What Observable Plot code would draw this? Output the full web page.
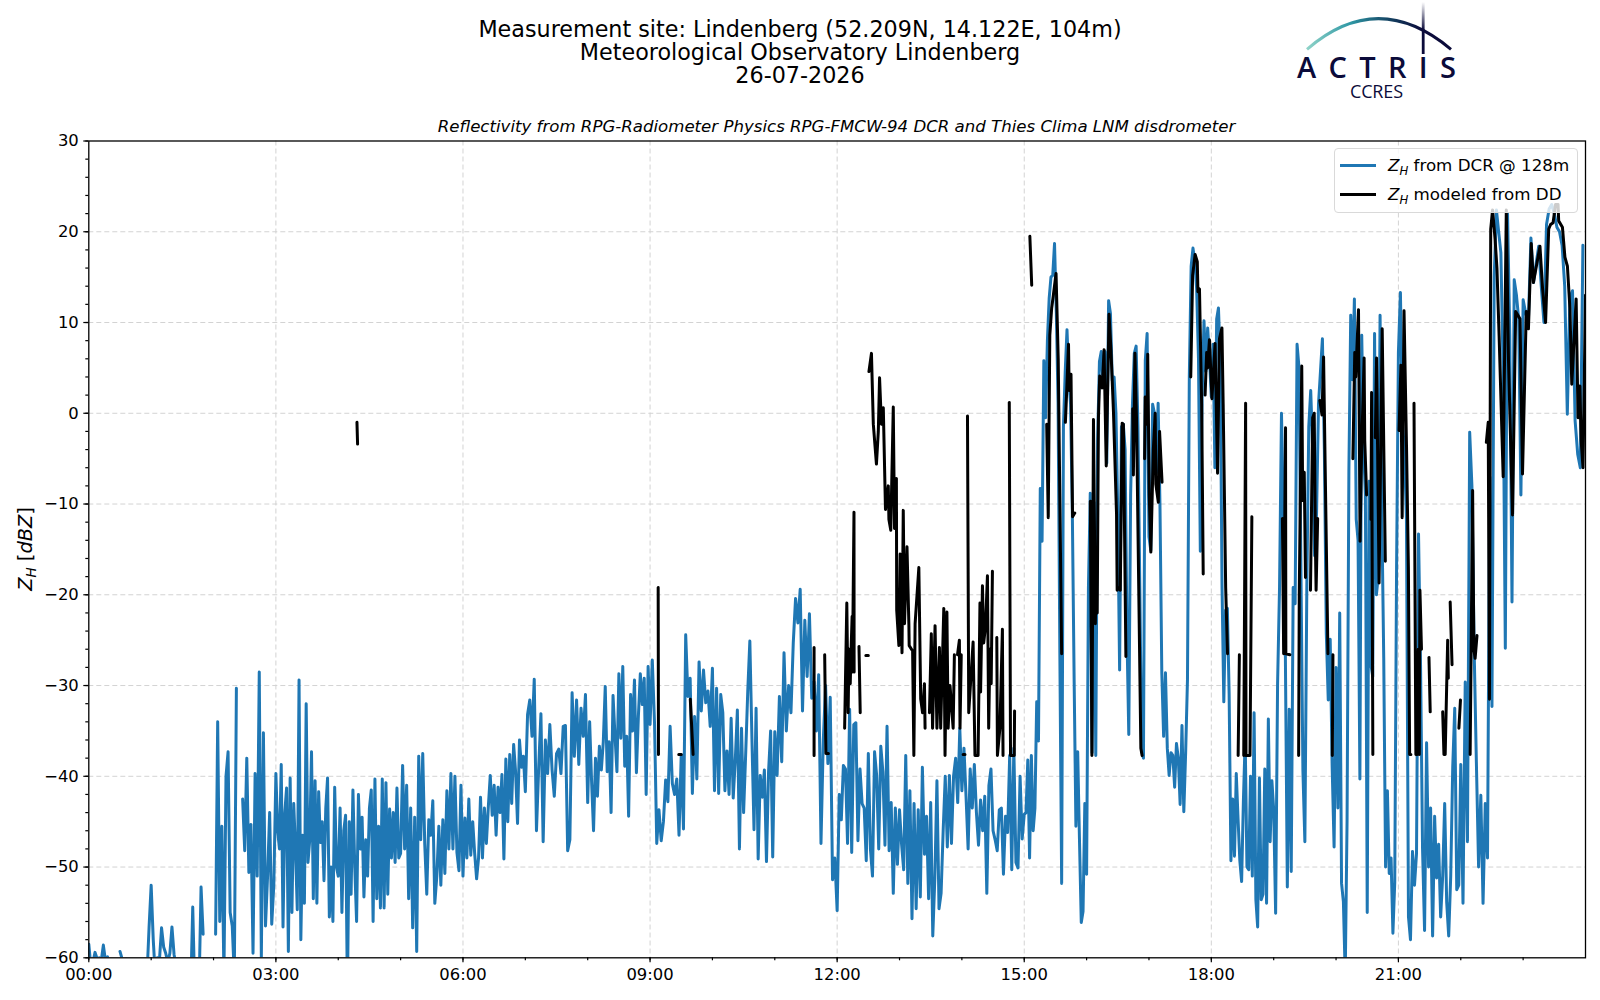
<!DOCTYPE html>
<html>
<head>
<meta charset="utf-8">
<script src="https://cdn.jsdelivr.net/npm/d3@7"></script>
<script src="https://cdn.jsdelivr.net/npm/@observablehq/plot@0.6"></script>
<style>
  html,body{margin:0;padding:0;background:#fff;}
  #page{position:relative;width:1600px;height:1000px;overflow:hidden;font-family:"DejaVu Sans",sans-serif;color:#000;}
  #header{height:135px;position:relative;}
  .t{position:absolute;left:0;width:1600px;text-align:center;font-size:22.25px;line-height:24px;white-space:nowrap;}
  #sub{position:absolute;left:88px;width:1497px;top:116px;text-align:center;font-style:italic;font-size:16.6px;line-height:22px;white-space:nowrap;}
  #ylab{position:absolute;left:24.5px;top:549px;transform:translate(-50%,-50%) rotate(-90deg);font-size:19.4px;white-space:nowrap;}
  #ylab i sub,.lt i sub{font-size:.7em;line-height:0;}
  #legend{position:absolute;left:1334px;top:148px;width:244px;height:65px;box-sizing:border-box;border:1px solid #d9d9d9;border-radius:4px;background:rgba(255,255,255,.8);}
  .ll{position:absolute;left:5px;width:36px;height:3px;}
  .lt{position:absolute;left:53px;font-size:16.7px;white-space:nowrap;line-height:20px;}
  #logo{position:absolute;left:0;top:0;}
  svg{display:block;}
</style>
</head>
<body>
<div id="page">
  <div id="header">
    <div class="t" style="top:17px">Measurement site: Lindenberg (52.209N, 14.122E, 104m)</div>
    <div class="t" style="top:40px">Meteorological Observatory Lindenberg</div>
    <div class="t" style="top:63px">26-07-2026</div>
    <div id="sub">Reflectivity from RPG-Radiometer Physics RPG-FMCW-94 DCR and Thies Clima LNM disdrometer</div>
  </div>
  <div id="chart"></div>
  <div id="ylab"><i>Z<sub>H</sub></i> [<i>dBZ</i>]</div>
  <div id="legend">
    <div class="ll" style="top:15px;background:#1f77b4"></div>
    <div class="lt" style="top:6px"><i>Z<sub>H</sub></i> from DCR @ 128m</div>
    <div class="ll" style="top:44px;background:#000"></div>
    <div class="lt" style="top:35px"><i>Z<sub>H</sub></i> modeled from DD</div>
  </div>
  <svg id="logo" width="1600" height="135" viewBox="0 0 1600 135">
    <defs>
      <linearGradient id="arc" gradientUnits="userSpaceOnUse" x1="1307" y1="0" x2="1451" y2="0">
        <stop offset="0" stop-color="#8fd3c8"/><stop offset=".3" stop-color="#2f98a5"/><stop offset=".6" stop-color="#123a5c"/><stop offset=".8" stop-color="#0b0b3a"/><stop offset="1" stop-color="#0b0b3a"/>
      </linearGradient>
      <linearGradient id="mast" gradientUnits="userSpaceOnUse" x1="0" y1="2" x2="0" y2="30">
        <stop offset="0" stop-color="#0b0b3a" stop-opacity="0"/><stop offset="1" stop-color="#0b0b3a"/>
      </linearGradient>
    </defs>
    <path d="M1307 49.3 Q1378 -12 1451 49.3" fill="none" stroke="url(#arc)" stroke-width="3"/>
    <rect x="1421.8" y="2" width="2.8" height="52" fill="url(#mast)"/>
    <text x="1297" y="78" font-family="Open Sans" font-weight="600" font-size="29" fill="#0b0b3a" textLength="159" lengthAdjust="spacing">ACTRIS</text>
    <text x="1350" y="98" font-family="Open Sans" font-size="18" fill="#0b0b3a" textLength="53">CCRES</text>
  </svg>
</div>
<script>
// Radar reflectivity (dBZ) per hour of day, evenly spread over that hour; null = no data
const dcr00=[-58.5,-61,-60.5,-59.4,-60.1,-60,-60.3,-58.6,-60.3,-59.9,-60.5,-61,null,null,null,-59.3,-60.1,-60.5,-60.1,null,null,null,null,null,null,null,null,null,-62,-56.6];
const dcr01=[-52,-58,-62,-60,-60.2,-56.7,-58.8,-59.5,-60.5,-59.5,-56.6,-59.6,-61,null,null,null,null,null,null,-64,-54.4,-64,null,-64,-52.2,-57.4,null,null,null,null];
const dcr02=[null,-57.4,-34,-56,-45.5,-62,-40,-37.3,-55,-56.5,-62,-30.3,null,null,-42.5,-48.2,-38,-50.6,-45.3,-59.5,-39.7,-51,-28.5,-60,-35.2,-56.5,-51,-44,-56.3,-52];
const dcr03=[-39.7,-46,-48,-38.7,-56.6,-44,-41.3,-59.3,-40.2,-55,-43,-48,-54.7,-29.4,-58,-46.5,-54,-32,-49.5,-47,-37.3,-53.5,-40.5,-54,-41.7,-47.3,-45,-51.5,-43.5,-40.2,-55.5,-50,-56,-41.2,-50];
const dcr04=[-51,-43.5,-55,-46,-44.3,-64,-45,-53,-41.5,-50,-56,-42,-48,-44.5,-53.3,-47,-51,-43.5,-41.5,-56,-40.3,-53.5,-45.5,-54.5,-40.3,-54.5,-40.7,-53,-43.6,-49,-44,-49.5,-41.3,-49];
const dcr05=[-48.5,-38.8,-48,-41,-53.5,-43.5,-56.7,-44.5,-59.3,-37.8,-47,-37.5,-47.5,-53,-44.8,-46.5,-42.7,-54,-51,-45.5,-52,-44.8,-50.7,-41.6,-48,-39.7,-48,-40,-48.4,-50.4,-41];
const dcr06=[-51,-44.6,-49,-42.5,-48.7,-45,-48.5,-51.3,-49,-42.3,-49,-43.5,-47.4,-43.4,-39.9,-44.3,-41,-46.5,-41.2,-44,-39.8,-49.1,-38.1,-45,-37.6,-43,-36.5,-39.5,-45.2,-36,-39,-37.8];
const dcr07=[-41.7,-33.2,-31.6,-35.6,-29.3,-46,-39,-33.1,-47.2,-36,-39.7,-34.3,-39.3,-42.2,-37.5,-37,-39.7,-34.5,-34.4,-48.2,-47,-30.8,-37.8,-31.6,-38.7,-32.5,-35.6,-31];
const dcr08=[-42.9,-34,-40.6,-46,-38,-42.2,-36.7,-39.3,-36.2,-30.1,-39.5,-36.2,-44,-31.1,-35.5,-39.5,-28.7,-35.8,-27.9,-38.9,-35.6,-44.4,-31,-35,-29.4,-39.6,-33.4,-28.7,-32.1,-29.2,-42,-27.9];
const dcr09=[-34.3,-27.2,-34.1,-47.4,-43.7,-47.1,-45,-40.4,-42.8,-34.5,-40.8,-42,-40.3,-46.5,-37.6,-45.8,-24.4,-31.2,-29.2,-41.9,-33.4,-40.3,-27.4,-32.8,-28.3,-31.9,-30.6,-34.5];
const dcr10=[-28.1,-41.6,-30.3,-41.9,-31,-33,-41.6,-37.2,-42,-33.6,-42.4,-38.2,-32.7,-48,-34.7,-44,-37.5,-30.6,-25.1,-35.8,-45.9,-32.5,-49.1,-39.9,-42.3,-39.3,-49.4,-39.5,-35,-48.9];
const dcr11=[-35.1,-39.9,-31.2,-38.4,-26.4,-35,-30,-33,-25.3,-20.4,-23.1,-19.4,-32.8,-22.8,-29,-22.1,-31.4,-29.6,-35,-28.8,-47.4,-36,-30,-38.6,-31.3,-51.4,-49];
const dcr12=[-54.8,-42,-44.8,-38.8,-39.2,-47.4,-32.6,-48.4,-34.3,-34.1,-47.1,-39.2,-43,-43.5,-49.3,-37.5,-48,-51,-37.3,-39.9,-48,-36.7,-39.5,-47.6,-34.5,-48.2,-42.9,-52.9,-43.5,-49.7];
const dcr13=[-43.7,-47.5,-50.3,-37.7,-51.8,-41.6,-55.7,-43,-54.6,-43.7,-53.3,-39,-48.6,-44.4,-53.5,-42.9,-57.6,-51.2,-40.5,-54.6,-52.9,-46,-40,-47.8,-39.9,-47.4,-40,-38,-42.9,-34.7];
const dcr14=[-41.6,-36.9,-42.2,-48,-39.2,-43.5,-38.7,-44,-47.6,-42.6,-46,-42.2,-52.9,-41,-39.2,-46,-47,-48.2,-43.7,-43.5,-50.8,-44.4,-46.2,-37.7,-50.3,-36.9,-49.5,-50.1,-40,-46.9];
const dcr15=[-44.2,-44,-38.2,-49,-37.7,-46,-43.5,-31.8,-36.1,-8.3,-14.1,5.8,-0.5,8,12.7,15,15.2,18.7,11.1,1,-26.8,-51.8,-1.5,4.6,9.2,4,1,-11.1,-29.3,-45.5,-37.3,-47,-56.1,-54.9,-43];
const dcr16=[-50.8,-19.2,-8.8,-37.4,-9.8,-37.7,-3,5.7,6.8,3,6.8,-5.5,12.4,11,3.6,4,0,-11.1,-28.3,-1.5,-1.2,-4,-24.3,-35.4,-9,1,6.6,7.4,-1.5,-19,-37.2,-38,5.8,8.8];
const dcr17=[-13.6,-15.1,1,0,-6.6,1.1,-10.1,-28.6,-35.6,-28.6,-36.9,-39.9,-37.4,-37.7,-41.2,-36.4,-38,-43.1,-34.4,-43.9,-37.4,-29.3,4,16.2,18.2,16.7,13.7,6,-15.2,2,10.2,4.6,9.4,6];
const dcr18=[1.8,7.6,-6,10.4,11.6,6,-19,-31.8,-21.7,-21.5,-31,-49.3,-42.5,-48.8,-39.7,-44.7,-49.3,-51.6,-42.7,-35.9,-50,-50.3,-40,-51,-33,-53.6,-56.6,-40.2,-53.6,-53,-39.2,-54,-33.7,-47.2,-40.5];
const dcr19=[-43.7,-55.1,-29.8,-19.2,0,-11.6,-26.8,-52.2,-32.6,-50.5,-19.2,-21,7.6,5,-17.7,-39.4,-47.2,-19.2,-1.5,2.5,-4,-15.7,-11,1,4.6,8.2,-4,-24.3,-31.6,-24.9,-38.9,-47.8];
const dcr20=[-28,-43.5,-22,-51.8,-53.8,-62,-45,-6.4,10.8,3.7,12.6,-11.7,-14,-40.3,8.6,-3.7,-9,-55,-7.5,-27.7,-29,8.8,-20,-18,10.8,-11.7,-27,-50,-41.6,-50.7,-49,-57.3,-51.7,-17];
const dcr21=[6.7,13.3,-1,-4,-11.7,-55.5,-58,-48.3,-52,-48.5,-13.3,-27.7,-48,-57,-36.3,-50,-43.5,-57.6,-44.4,-51.2,-47.5,-55.5,-51,-43,-53.9,-57.6,-51,-39,-32.5,-52.5,-52];
const dcr22=[-38.7,-54,-29.6,-47.2,-2.1,-8,-26,-38.4,-50,-42.1,-54,-43,-49,-7,-32.3,15,22.4,20,17.7,5,-25.9,22,8.6,-20.8,14.7,13,10.4,-9];
const dcr23=[12.5,11,10,19.3,14.4,16.5,18.4,13.9,10,20.8,22.5,23,22,20.5,20,18.5,14,-0.1,12.8,13.5,-0.8,-4.5,-6,18.5];
const dcrByHour=[dcr00,dcr01,dcr02,dcr03,dcr04,dcr05,dcr06,dcr07,dcr08,dcr09,dcr10,dcr11,dcr12,dcr13,dcr14,dcr15,dcr16,dcr17,dcr18,dcr19,dcr20,dcr21,dcr22,dcr23];

// Disdrometer-modelled reflectivity: [hour, dBZ]; null = break in the trace
const ddEarly=[[4.30,-1],[4.31,-3.4],null,[9.13,-19.2],[9.135,-37.6],null,[9.46,-37.6],[9.50,-37.6],null,[9.645,-31.5],[9.69,-37.6],null,[11.63,-25.8],[11.63,-37.7],null,[11.80,-26.6],[11.82,-37.5],[11.86,-37.5],null];
const ddNoon=[[12.12,-34.7],[12.155,-20.9],[12.176,-33],[12.19,-26],[12.21,-29.8],[12.22,-26.8],[12.24,-22.4],[12.245,-28.5],[12.27,-10.9],[12.272,-28.5],null,[12.35,-25.7],[12.37,-33],null,[12.46,-26.7],[12.50,-26.7],null,
[12.51,4.6],[12.55,6.6],[12.58,-1.2],[12.63,-5.6],[12.66,-2],[12.68,3.9],[12.71,-1.2],[12.74,0.6],[12.775,-10.6],[12.82,-8],[12.83,-11.7],[12.86,-12.9],[12.90,0.7],[12.92,-12.7],[12.95,-7.2],[12.955,-21.7],[12.99,-25.6],[13.01,-15.5],[13.04,-26.4],[13.06,-10.7],[13.08,-23.2],[13.12,-14.7],[13.15,-23.2],[13.155,-25.6],[13.21,-26.2],[13.23,-37.7],[13.25,-23.2],[13.31,-17],[13.34,-31.5],[13.37,-33],[13.40,-29.8],[13.41,-34.7],null,
[13.48,-33],[13.51,-24.3],[13.53,-34.7],[13.57,-23.4],[13.60,-34.7],[13.64,-25.8],[13.66,-34.7],[13.71,-21.5],[13.73,-37.7],[13.76,-21.9],[13.78,-34.7],[13.81,-30],[13.86,-34.7],[13.88,-26.6],null,[13.93,-26.6],[13.96,-25],[13.97,-34.7],[13.99,-26.6],null,[14.02,-37.6],[14.05,-37.6],null,
[14.09,-0.3],[14.11,-33],[14.18,-25.2],[14.21,-37.7],[14.26,-37.7],[14.29,-20.9],[14.30,-30.7],[14.33,-19],[14.35,-25.3],[14.38,-23.4],[14.41,-17.9],[14.43,-34.7],[14.45,-26],[14.47,-29.8],[14.49,-17.4],null,[14.56,-24.7],[14.57,-37.7],[14.61,-34.7],[14.65,-23.8],[14.66,-37.7],null,[14.76,1.2],[14.78,-37.7],[14.84,-37.7],[14.845,-32.8],null];
const ddAfternoon=[[15.09,19.5],[15.12,14.1],null,[15.36,-1.2],[15.385,-11.5],[15.41,8.6],[15.44,11.6],[15.465,12.9],[15.51,15.4],[15.545,6],[15.60,-26.5],null,[15.66,-1],[15.68,2.3],[15.71,7.6],[15.72,2.5],[15.75,4.3],[15.775,-11.4],[15.81,-11],null,
[16.06,-9.7],[16.085,-37.7],[16.11,-0.7],[16.14,-23.2],[16.15,-19.5],[16.17,-22],[16.19,-0.5],[16.21,4.1],[16.25,2.8],[16.28,7],[16.315,-5.8],[16.36,10.9],[16.39,7.1],[16.43,0.3],[16.48,-11.1],[16.49,-19.5],[16.52,-19.2],[16.54,-19.5],[16.57,-1.1],[16.59,-1.2],[16.63,-26.8],null,
[16.74,0.5],[16.75,-6.8],[16.775,6.6],[16.80,-0.5],[16.87,-36.9],[16.89,-37.7],null,[16.93,-5],[16.94,1.8],[16.97,-1.2],[16.98,6.5],[17.005,-9.1],[17.03,-15.3],[17.07,-4],[17.10,0],[17.11,-7.8],[17.15,-9.8],[17.17,-2],[17.21,-7.6],null,
[17.67,4],[17.70,15.2],[17.74,17.5],[17.775,16.7],[17.785,13.4],[17.81,13.7],[17.845,1],[17.87,-17.7],null,[17.90,2],[17.925,6.7],[17.94,5],[17.97,8.1],[18.01,1.6],[18.06,7.7],[18.10,-6.6],[18.13,8.2],[18.17,9.4],[18.19,1],[18.23,-19.2],[18.26,-26.5],null];
const ddEvening=[[18.43,-37.7],[18.45,-26.6],null,[18.52,-37.7],[18.55,1.1],[18.556,-37.7],[18.62,-37.7],[18.65,-11.4],null,[19.14,-11.6],[19.16,-26.5],[19.19,-1.6],[19.195,-26.5],[19.26,-26.6],null,
[19.40,-37.7],[19.41,-20],[19.45,5.2],[19.465,-9.6],[19.49,-6.5],[19.51,-18.1],null,[19.59,-19.5],[19.625,-0.5],[19.65,0],[19.67,-15],[19.68,-19.5],[19.705,-11.6],null,[19.74,1.4],[19.775,-0.2],[19.80,6.2],[19.83,-8],[19.87,-26.5],null,[19.94,-37.7],[19.95,-26.6],null,
[20.27,-5],[20.30,6.7],[20.315,4],[20.36,11.4],[20.385,-14.1],[20.41,-4],[20.45,6.1],[20.46,-3],[20.49,-9],null,[20.56,-11.7],[20.57,2.3],[20.59,-37.6],null,[20.63,-2.7],[20.65,6.1],[20.69,-18.7],[20.74,9.3],[20.79,-16.3],null];
const ddNight=[[21.01,-1.9],[21.04,5.3],[21.06,-11.5],[21.09,11.3],[21.13,-3.7],[21.16,-17],[21.18,-37.6],[21.20,-37.6],null,[21.25,1.1],[21.28,-37.6],[21.30,-37.6],[21.32,-26],[21.335,-37.6],[21.345,-19.5],[21.37,-26],null,[21.49,-26.9],[21.51,-32.9],null,[21.71,-32.9],[21.73,-37.6],[21.75,-37.6],[21.79,-25],[21.80,-29.2],null,[21.83,-20.8],[21.86,-27.7],null,[21.97,-34.7],[21.995,-31.6],null,[22.15,-37.6],[22.19,-8.5],[22.21,-26],[22.23,-27],[22.26,-24.5],null,
[22.41,-3.2],[22.44,-1],[22.46,-31.5],[22.48,20.3],[22.51,22.4],[22.55,19.2],[22.58,16],[22.615,8.5],[22.68,-7],[22.73,22.4],[22.765,5.9],[22.83,-11.2],[22.88,11.2],[22.95,10.4],[22.99,-6.7],[23.05,11.2],[23.085,9.3],[23.13,18.7],[23.165,14.4],[23.22,16.5],[23.27,18.4],[23.31,13.9],[23.36,10],[23.41,20.3],[23.44,20.8],[23.48,21],[23.52,23],[23.56,23],[23.57,21.2],[23.63,20.5],[23.67,17.2],[23.71,16.2],[23.75,11.6],[23.78,3.2],[23.85,12.6],[23.88,-0.5],[23.91,3],[23.93,-3],[23.96,-6],[24.0,13]];

const xLabelHours=[0,3,6,9,12,15,18,21];
const xMinorHours=d3.range(0,24);
const yLabelValues=[-60,-50,-40,-30,-20,-10,0,10,20,30];
const yMinorValues=d3.range(-60,31,2);
const blue="#1f77b4";

const dcrRows=dcrByHour.flatMap((vals,h)=>vals.map((z,i)=>({t:h+i/vals.length,z:z==null?NaN:z})));
const ddRows=[...ddEarly,...ddNoon,...ddAfternoon,...ddEvening,...ddNight].map(p=>p?{t:p[0],z:p[1]}:{t:NaN,z:NaN});

const hh=h=>String(h).padStart(2,"0")+":00";
const minus=v=>v<0?"\u2212"+(-v):String(v);
const gridStyle={stroke:"#d3d3d3",strokeOpacity:1,strokeDasharray:"5,3",strokeWidth:1};

const chart=Plot.plot({
  width:1600,height:865,
  marginLeft:88.3,marginRight:15,marginTop:5.5,marginBottom:42.7,
  style:{fontFamily:"DejaVu Sans",fontSize:"16.4px",background:"transparent",color:"#000",overflow:"visible"},
  x:{domain:[0,24],label:null},
  y:{domain:[-60,30],label:null},
  marks:[
    Plot.gridX(xLabelHours.slice(1),gridStyle),
    Plot.gridY(yLabelValues.slice(1,-1),gridStyle),
    Plot.line(dcrRows,{x:"t",y:"z",stroke:blue,strokeWidth:3,clip:true}),
    Plot.line(ddRows,{x:"t",y:"z",stroke:"#000",strokeWidth:3,clip:true}),
    Plot.axisX({ticks:xMinorHours,tickSize:3,tickFormat:()=>"",label:null,strokeWidth:1.2}),
    Plot.axisY({ticks:yMinorValues,tickSize:3,tickFormat:()=>"",label:null,strokeWidth:1.2}),
    Plot.axisX({ticks:xLabelHours,tickSize:5,tickPadding:6,tickFormat:hh,label:null,strokeWidth:1.2}),
    Plot.axisY({ticks:yLabelValues,tickSize:5,tickPadding:5,tickFormat:minus,label:null,strokeWidth:1.2}),
    Plot.frame({stroke:"#000",strokeWidth:1.3})
  ]
});
document.getElementById("chart").appendChild(chart);
</script>
</body>
</html>
